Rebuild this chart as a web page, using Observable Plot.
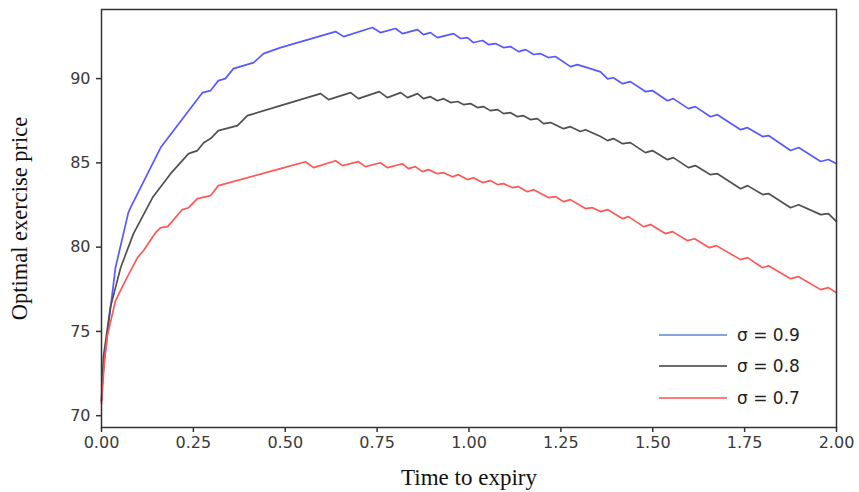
<!DOCTYPE html>
<html>
<head>
<meta charset="utf-8">
<script src="https://cdn.jsdelivr.net/npm/d3@7"></script>
<script src="https://cdn.jsdelivr.net/npm/@observablehq/plot@0.6"></script>
<style>
  html, body { margin: 0; padding: 0; background: #fff; }
  #wrap { position: relative; width: 859px; height: 492px; }
  #legend { position: absolute; left: 659px; top: 319px; font-family: "DejaVu Sans", sans-serif; font-size: 17px; color: #222; }
  .row { display: flex; align-items: center; height: 31.5px; }
  .row svg { margin-right: 10px; }
</style>
</head>
<body>
<div id="wrap"><div id="legend"></div></div>
<script>
const xTicks = [0, 0.25, 0.5, 0.75, 1.0, 1.25, 1.5, 1.75, 2.0];
const yTicks = [70, 75, 80, 85, 90];
const seriesNames = ["σ = 0.9", "σ = 0.8", "σ = 0.7"];
const seriesColors = ["#5858ff", "#505050", "#ff5858"];
const legendColors = ["#5b86d6", "#3a3a3a", "#ff5050"];

const t09 = [0,0.003,0.016,0.038,0.073,0.079,0.161,0.275,0.297,0.318,0.337,0.359,0.414,0.441,0.487,0.637,0.659,0.737,0.759,0.800,0.819,0.860,0.876,0.895,0.914,0.958,0.977,0.996,1.012,1.037,1.053,1.072,1.094,1.113,1.135,1.154,1.176,1.195,1.216,1.235,1.276,1.295,1.339,1.358,1.377,1.393,1.418,1.439,1.480,1.499,1.540,1.556,1.597,1.616,1.657,1.676,1.739,1.758,1.799,1.815,1.875,1.897,1.957,1.978,2.0];
const p09 = [70.89,72.26,74.87,78.78,82.05,82.34,85.91,89.17,89.29,89.88,90.00,90.59,90.95,91.48,91.84,92.79,92.49,93.03,92.73,92.97,92.67,92.91,92.61,92.73,92.43,92.67,92.38,92.43,92.14,92.26,92.02,92.08,91.84,91.90,91.60,91.72,91.43,91.48,91.25,91.31,90.71,90.83,90.53,90.40,89.98,90.05,89.70,89.82,89.23,89.29,88.69,88.81,88.22,88.34,87.74,87.86,86.97,87.09,86.56,86.62,85.73,85.91,85.08,85.20,84.95];

const t08 = [0,0.005,0.024,0.052,0.087,0.139,0.188,0.237,0.261,0.278,0.297,0.318,0.370,0.397,0.487,0.596,0.618,0.678,0.699,0.756,0.778,0.814,0.833,0.860,0.876,0.895,0.914,0.931,0.950,0.969,0.985,1.004,1.023,1.039,1.058,1.078,1.094,1.113,1.132,1.148,1.167,1.186,1.203,1.222,1.257,1.276,1.303,1.317,1.358,1.377,1.393,1.418,1.439,1.480,1.499,1.540,1.556,1.597,1.616,1.657,1.676,1.739,1.758,1.799,1.815,1.875,1.897,1.957,1.978,2.0];
const p08 = [70.89,73.44,76.41,78.78,80.80,82.94,84.36,85.55,85.73,86.20,86.44,86.91,87.21,87.80,88.40,89.11,88.75,89.17,88.81,89.23,88.87,89.17,88.87,89.11,88.81,88.93,88.69,88.81,88.58,88.64,88.46,88.52,88.28,88.34,88.10,88.16,87.92,87.98,87.74,87.80,87.57,87.63,87.33,87.39,87.03,87.15,86.86,86.97,86.56,86.32,86.44,86.14,86.20,85.61,85.73,85.19,85.31,84.72,84.84,84.30,84.36,83.47,83.65,83.12,83.18,82.34,82.52,81.93,81.99,81.51];

const t07 = [0,0.008,0.016,0.038,0.065,0.098,0.114,0.147,0.161,0.180,0.220,0.237,0.261,0.297,0.318,0.487,0.555,0.577,0.637,0.656,0.699,0.718,0.759,0.778,0.819,0.835,0.854,0.873,0.890,0.914,0.931,0.955,0.971,0.996,1.012,1.037,1.058,1.078,1.094,1.118,1.135,1.159,1.176,1.216,1.235,1.257,1.276,1.317,1.336,1.358,1.377,1.418,1.434,1.475,1.494,1.535,1.554,1.594,1.614,1.654,1.673,1.739,1.758,1.799,1.815,1.875,1.897,1.957,1.978,2.0];
const p07 = [70.71,73.26,74.75,76.82,78.01,79.38,79.79,80.86,81.16,81.22,82.23,82.34,82.88,83.06,83.65,84.66,85.07,84.72,85.13,84.84,85.07,84.78,85.01,84.72,84.95,84.66,84.78,84.48,84.60,84.36,84.42,84.18,84.30,84.01,84.12,83.83,83.95,83.71,83.77,83.53,83.59,83.29,83.41,82.94,83.00,82.70,82.82,82.29,82.34,82.11,82.23,81.69,81.81,81.22,81.34,80.80,80.92,80.39,80.50,79.97,80.09,79.26,79.38,78.78,78.90,78.13,78.25,77.48,77.60,77.30];

function zip(ts, ps, s) {
  const n = Math.min(ts.length, ps.length);
  return d3.range(n).map(i => ({t: ts[i], p: ps[i], s}));
}
const data = [
  ...zip(t09, p09, seriesNames[0]),
  ...zip(t08, p08, seriesNames[1]),
  ...zip(t07, p07, seriesNames[2])
];

const tickStyle = {fontFamily: "DejaVu Sans, sans-serif", fontSize: 16, fill: "#3a3a3a"};

const chart = Plot.plot({
  width: 859,
  height: 492,
  marginLeft: 101,
  marginRight: 23,
  marginTop: 9,
  marginBottom: 65,
  style: {background: "#fff", overflow: "visible"},
  x: {domain: [0, 2]},
  y: {domain: [69.3, 94.1]},
  color: {domain: seriesNames, range: seriesColors},
  marks: [
    Plot.line(data, {x: "t", y: "p", z: "s", stroke: "s", strokeWidth: 1.7}),
    Plot.frame({stroke: "#333", strokeWidth: 1.5}),
    Plot.axisX({ticks: xTicks, tickFormat: d3.format(".2f"), tickSize: 5, tickPadding: 4, stroke: "#333", strokeWidth: 1.5, label: null, ...tickStyle}),
    Plot.axisY({ticks: yTicks, tickFormat: d => String(d), tickSize: 5, tickPadding: 6, stroke: "#333", strokeWidth: 1.5, label: null, ...tickStyle}),
    Plot.text(["Time to expiry"], {frameAnchor: "bottom", dy: 57, text: d => d, fontFamily: "Liberation Serif, serif", fontSize: 23, fill: "#111", textAnchor: "middle"}),
    Plot.text(["Optimal exercise price"], {frameAnchor: "left", dx: -82, text: d => d, rotate: -90, fontFamily: "Liberation Serif, serif", fontSize: 22.5, fill: "#111", textAnchor: "middle"})
  ]
});
const wrap = document.getElementById("wrap");
wrap.insertBefore(chart, wrap.firstChild);

const legend = document.getElementById("legend");
seriesNames.forEach((name, i) => {
  const row = document.createElement("div");
  row.className = "row";
  row.innerHTML = `<svg width="68" height="4"><line x1="0" x2="68" y1="2" y2="2" stroke="${legendColors[i]}" stroke-width="1.7"/></svg><span>${name}</span>`;
  legend.appendChild(row);
});
</script>
</body>
</html>
